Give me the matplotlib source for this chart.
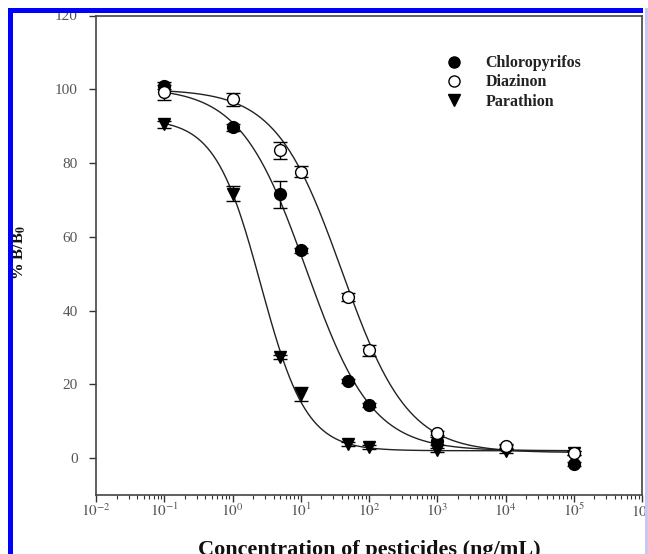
import numpy as np
import matplotlib
matplotlib.use("Agg")
import matplotlib.pyplot as plt
from matplotlib.patches import Rectangle
from matplotlib.lines import Line2D
from matplotlib.ticker import LogLocator, FixedLocator, NullFormatter

plt.rcParams['font.family'] = ['Liberation Serif', 'DejaVu Serif']
plt.rcParams['mathtext.fontset'] = 'stix'

# ---- data ----
conc = [0.1, 1, 5, 10, 50, 100, 1000, 10000, 100000]

chloro = [101.0, 89.7, 71.5, 56.3, 20.9, 14.4, 4.6, 3.0, -1.6]
chloro_err = [1.0, 1.0, 3.7, 0.6, 0.6, 0.6, 1.0, 0.5, 0.6]

diaz = [99.2, 97.3, 83.4, 77.7, 43.7, 29.3, 6.8, 3.3, 1.4]
diaz_err = [2.0, 1.8, 2.2, 1.5, 1.0, 1.5, 0.5, 0.5, 0.5]

para = [90.5, 71.7, 27.4, 17.4, 3.8, 3.0, 2.2, 2.0, 1.4]
para_err = [1.0, 2.0, 0.5, 2.0, 0.5, 0.5, 0.5, 0.5, 0.5]

# four-parameter logistic fit parameters (top, bottom, IC50, slope)
fit_chloro = [100.5, 2.0, 12.0, 0.9]
fit_diaz = [100.0, 1.5, 40.0, 0.9]
fit_para = [92.0, 2.0, 2.6, 1.3]

labels = ['Chloropyrifos', 'Diazinon', 'Parathion']
xtick_vals = [1e-2, 1e-1, 1e0, 1e1, 1e2, 1e3, 1e4, 1e5, 1e6]
xtick_labels = [r'$10^{-2}$', r'$10^{-1}$', r'$10^{0}$', r'$10^{1}$', r'$10^{2}$',
                r'$10^{3}$', r'$10^{4}$', r'$10^{5}$', r'$10^{6}$']
ytick_vals = [0, 20, 40, 60, 80, 100, 120]


def four_pl(x, p):
    top, bottom, c, b = p
    return bottom + (top - bottom) / (1.0 + (x / c) ** b)


W, H = 648, 554
fig = plt.figure(figsize=(W / 100, H / 100), dpi=100)
ax = fig.add_axes([96 / W, 1 - 495 / H, (642 - 96) / W, (495 - 15.5) / H])

xs = np.logspace(-1, 5, 400)
for p in (fit_chloro, fit_diaz, fit_para):
    ax.plot(xs, four_pl(xs, p), color='#222222', lw=1.0, zorder=2)

ms = 8.5
cs = 5
e1 = ax.errorbar(conc, chloro, yerr=chloro_err, fmt='o', color='black', ms=ms,
                 mfc='black', mec='black', ecolor='black', elinewidth=1, capsize=cs, capthick=1, zorder=3)
e2 = ax.errorbar(conc, diaz, yerr=diaz_err, fmt='o', color='black', ms=ms,
                 mfc='white', mec='black', mew=1.0, ecolor='black', elinewidth=1, capsize=cs, capthick=1, zorder=4)
e3 = ax.errorbar(conc, para, yerr=para_err, fmt='v', color='black', ms=ms,
                 mfc='black', mec='black', ecolor='black', elinewidth=1, capsize=cs, capthick=1, zorder=3)

ax.set_xscale('log')
ax.set_xlim(1e-2, 1e6)
ax.set_ylim(-10, 120)

ax.xaxis.set_major_locator(FixedLocator(xtick_vals))
ax.set_xticklabels(xtick_labels)
ax.xaxis.set_minor_locator(LogLocator(base=10, subs=np.arange(2, 10), numticks=20))
ax.xaxis.set_minor_formatter(NullFormatter())
ax.set_yticks(ytick_vals)
ax.set_yticklabels([str(v) for v in ytick_vals])

ax.tick_params(axis='both', which='major', direction='out', length=5, width=1,
               colors='#333333', labelsize=11, labelcolor='#555555')
ax.tick_params(axis='x', which='minor', direction='out', length=3, width=0.8, colors='#333333')
ax.tick_params(axis='x', which='major', pad=0)
ax.tick_params(axis='y', which='major', pad=8)
ax.tick_params(top=False, right=False)
for s in ax.spines.values():
    s.set_color('#444444')
    s.set_linewidth(1.2)

# axis labels
fig.text(19 / W, 1 - 252 / H, r'% B/B$_\mathbf{0}$', rotation=90, ha='center', va='center',
         fontsize=12, fontweight='bold', color='#111111')
fig.text(369 / W, 1 - 540 / H, 'Concentration of pesticides (ng/mL)', ha='center', va='top',
         fontsize=16, fontweight='bold', color='#111111')

# legend
handles = [Line2D([], [], ls='none', marker='o', ms=8, mfc='black', mec='black'),
           Line2D([], [], ls='none', marker='o', ms=8, mfc='white', mec='black'),
           Line2D([], [], ls='none', marker='v', ms=8, mfc='black', mec='black')]
leg = ax.legend(handles, labels, loc='upper left', frameon=False,
                bbox_to_anchor=(433 / W, 1 - 44 / H), bbox_transform=fig.transFigure,
                prop={'family': 'Liberation Serif', 'weight': 'bold', 'size': 11.5},
                handlelength=1.2, handletextpad=1.4, labelspacing=0.2, borderpad=0.2)
for t in leg.get_texts():
    t.set_color('#222222')

# blue frame of the picture
fig.patches.append(Rectangle((8 / W, 0), 5 / W, 1 - 8 / H, transform=fig.transFigure,
                             facecolor='#0000ff', edgecolor='none', zorder=10))
fig.patches.append(Rectangle((8 / W, 1 - 13 / H), (643 - 8) / W, 5 / H, transform=fig.transFigure,
                             facecolor='#0000ff', edgecolor='none', zorder=10))
fig.patches.append(Rectangle((645 / W, 0), 3 / W, 1 - 8 / H, transform=fig.transFigure,
                             facecolor='#c8c8f0', edgecolor='none', zorder=10))

fig.savefig('out.png', dpi=100)
